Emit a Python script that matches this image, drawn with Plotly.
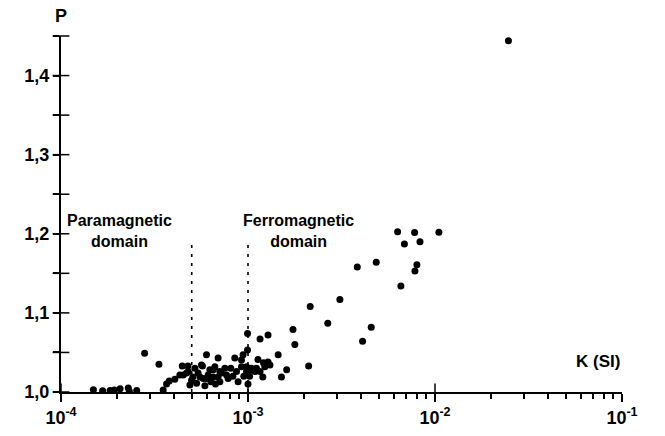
import plotly.graph_objects as go

# Magnetic susceptibility K (SI) and anisotropy degree P
K = [1.49e-4, 1.67e-4, 1.83e-4, 1.93e-4, 2.07e-4, 2.29e-4, 2.32e-4, 2.54e-4, 2.80e-4, 3.34e-4,
     3.52e-4, 3.67e-4, 3.79e-4, 4.06e-4, 4.32e-4, 4.45e-4, 4.50e-4, 4.79e-4, 4.99e-4, 5.20e-4,
     5.31e-4, 5.53e-4, 5.71e-4, 6.00e-4, 6.00e-4, 6.25e-4, 6.51e-4, 6.65e-4, 6.92e-4, 7.07e-4,
     7.07e-4, 7.52e-4, 7.83e-4, 8.50e-4, 8.68e-4, 8.85e-4, 9.23e-4, 9.41e-4, 9.82e-4, 9.94e-4,
     9.94e-4, 1.00e-3, 1.04e-3, 1.09e-3, 1.16e-3, 1.20e-3, 1.23e-3, 1.28e-3, 1.28e-3, 1.45e-3,
     1.51e-3, 1.61e-3, 1.74e-3, 1.78e-3, 2.11e-3, 2.15e-3, 2.67e-3, 3.10e-3, 3.84e-3, 4.10e-3,
     4.56e-3, 4.85e-3, 6.31e-3, 6.57e-3, 6.86e-3, 7.78e-3, 8.31e-3, 8.00e-3, 7.81e-3, 1.049e-2,
     2.47e-2, 4.69e-4, 5.41e-4, 5.64e-4, 5.76e-4, 6.12e-4, 6.51e-4, 6.92e-4, 7.20e-4, 7.68e-4,
     9.23e-4, 9.82e-4, 1.04e-3, 1.11e-3, 1.16e-3, 1.21e-3, 1.31e-3, 4.89e-4, 5.07e-4, 5.88e-4,
     6.33e-4, 8.09e-4, 6.70e-4, 8.30e-4, 4.77e-4, 1.13e-3, 9.50e-4, 1.02e-3]
P = [1.003, 1.0015, 1.002, 1.0025, 1.004, 1.005, 1.001, 1.002, 1.049, 1.035,
     1.0025, 1.010, 1.014, 1.016, 1.0215, 1.033, 1.0215, 1.026, 1.015, 1.030,
     1.011, 1.019, 1.033, 1.047, 1.017, 1.028, 1.019, 1.032, 1.043, 1.026,
     1.013, 1.030, 1.017, 1.043, 1.026, 1.013, 1.0405, 1.047, 1.032, 1.053,
     1.074, 1.010, 1.030, 1.026, 1.067, 1.019, 1.032, 1.072, 1.038, 1.047,
     1.019, 1.028, 1.079, 1.060, 1.033, 1.108, 1.087, 1.117, 1.158, 1.064,
     1.082, 1.164, 1.2025, 1.134, 1.187, 1.2016, 1.190, 1.161, 1.153, 1.202,
     1.444, 1.024, 1.024, 1.034, 1.017, 1.0215, 1.028, 1.019, 1.024, 1.0215,
     1.032, 1.026, 1.028, 1.030, 1.026, 1.037, 1.034, 1.009, 1.019, 1.008,
     1.013, 1.030, 1.010, 1.020, 1.033, 1.041, 1.020, 1.020]

# Domain boundaries (K values) and the height of the dotted separators
domain_bounds = [5e-4, 1e-3]
bound_top = 1.193

x_major = [1e-4, 1e-3, 1e-2, 1e-1]
x_major_text = ["10<sup>-4</sup>", "10<sup>-3</sup>", "10<sup>-2</sup>", "10<sup>-1</sup>"]
x_minor = [m * d for d in [1e-4, 1e-3, 1e-2] for m in range(2, 10)]
y_ticks = [1.0, 1.05, 1.1, 1.15, 1.2, 1.25, 1.3, 1.35, 1.4, 1.45]
y_text = ["1,0", "", "1,1", "", "1,2", "", "1,3", "", "1,4", ""]

FONT = "Liberation Sans, Arial, sans-serif"

fig = go.Figure()
fig.add_trace(go.Scatter(x=K, y=P, mode="markers",
                         marker=dict(color="black", size=7, line=dict(width=0)),
                         showlegend=False, hoverinfo="x+y"))
for b in domain_bounds:
    fig.add_trace(go.Scatter(x=[b, b], y=[1.0, bound_top], mode="lines",
                             line=dict(color="black", width=1.6, dash="3px,6px"),
                             showlegend=False, hoverinfo="skip"))

# crossing tick marks (inner halves of the axis ticks)
fig.add_trace(go.Scatter(x=[x_major[0]] * len(y_ticks), y=y_ticks, mode="markers",
                         marker=dict(symbol="line-ew", size=12, color="black",
                                     line=dict(color="black", width=1.5)),
                         cliponaxis=False, showlegend=False, hoverinfo="skip"))
fig.add_trace(go.Scatter(x=x_major, y=[y_ticks[0]] * len(x_major), mode="markers",
                         marker=dict(symbol="line-ns", size=12, color="black",
                                     line=dict(color="black", width=1.5)),
                         cliponaxis=False, showlegend=False, hoverinfo="skip"))

fig.update_layout(
    width=665, height=436,
    margin=dict(l=61, r=43, t=36, b=44, autoexpand=False),
    paper_bgcolor="white", plot_bgcolor="white",
    font=dict(family=FONT, color="black"),
    xaxis=dict(type="log", range=[-4, -1], showgrid=False, zeroline=False,
               showline=True, linecolor="black", linewidth=2, automargin=False,
               tickmode="array", tickvals=x_major, ticktext=x_major_text,
               ticks="outside", ticklen=8, tickwidth=1.5, tickcolor="black",
               tickfont=dict(family=FONT, size=18, weight="bold"),
               minor=dict(tickmode="array", tickvals=x_minor, ticks="outside",
                          ticklen=5, tickwidth=1.5, tickcolor="black", showgrid=False)),
    yaxis=dict(range=[1.0, 1.45], showgrid=False, zeroline=False,
               showline=True, linecolor="black", linewidth=2, automargin=False,
               tickmode="array", tickvals=y_ticks, ticktext=y_text,
               ticks="outside", ticklen=6, tickwidth=1.5, tickcolor="black",
               tickfont=dict(family=FONT, size=18, weight="bold")),
)

ann_font = dict(family=FONT, size=16, color="black", weight="bold")
fig.add_annotation(x=-3.685, y=1.204, xref="x", yref="y", text="Paramagnetic<br>domain",
                   showarrow=False, font=ann_font, align="center")
fig.add_annotation(x=-2.729, y=1.204, xref="x", yref="y", text="Ferromagnetic<br>domain",
                   showarrow=False, font=ann_font, align="center")
fig.add_annotation(x=-1.0, y=1.038, xref="x", yref="y", text="K (SI)", xanchor="right",
                   showarrow=False, font=dict(family=FONT, size=17, color="black", weight="bold"))
fig.add_annotation(x=-4.0, y=1.0, xref="x", yref="paper", text="P", yanchor="bottom",
                   yshift=8, showarrow=False,
                   font=dict(family=FONT, size=18, color="black", weight="bold"))

fig.write_html("out.html")
